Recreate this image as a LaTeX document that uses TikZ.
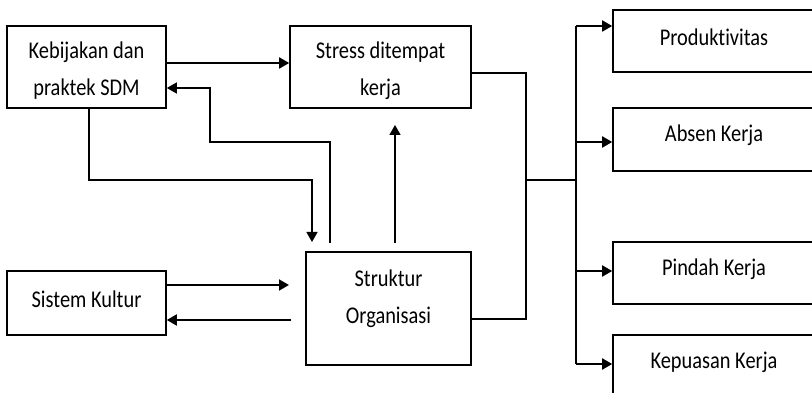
\documentclass[tikz,border=0pt]{standalone}
\usepackage{fontspec}
\setmainfont{Carlito}[FakeStretch=0.85, RawFeature=-liga]
\usetikzlibrary{arrows.meta}
\tikzset{
  box/.style={draw, line width=1.6pt, rectangle, inner sep=0pt},
  txt/.style={align=center, font=\fontsize{24}{37}\selectfont, inner sep=0pt},
  arr/.style={line width=1.8pt, -{Triangle[length=10pt,width=11pt]}},
  ln/.style={line width=1.4pt},
}
\begin{document}
\begin{tikzpicture}[x=1pt,y=-1pt]
\useasboundingbox (0,0) rectangle (812,393);
\clip (0,0) rectangle (812,393);
% boxes
\node[box, minimum width=159pt, minimum height=82pt] (keb) at (86.5,67) {};
\node[txt] (kebt) at (86.5,71) {Kebijakan dan\\praktek SDM};
\node[box, minimum width=181pt, minimum height=82pt] (stress) at (380.5,67) {};
\node[txt] (stresst) at (380.5,71) {Stress ditempat\\kerja};
\node[box, minimum width=159pt, minimum height=64pt] (sis) at (86.5,303) {};
\node[txt] (sist) at (86.5,299) {Sistem Kultur};
\node[box, minimum width=165pt, minimum height=113pt] (str) at (388.5,308.5) {};
\node[txt] (strt) at (388.5,299) {Struktur\\Organisasi};
\node[box, minimum width=202pt, minimum height=62pt] (prod) at (714,41) {};
\node[txt] (prodt) at (714,37) {Produktivitas};
\node[box, minimum width=202pt, minimum height=63pt] (abs) at (714,139.5) {};
\node[txt] (abst) at (714,135) {Absen Kerja};
\node[box, minimum width=202pt, minimum height=62pt] (pin) at (714,273) {};
\node[txt] (pint) at (714,269) {Pindah Kerja};
\node[box, minimum width=202pt, minimum height=62pt] (kep) at (714,366) {};
\node[txt] (kept) at (714,362) {Kepuasan Kerja};
% helper coordinates
\coordinate (b1) at (330,243);
\coordinate (c1) at (312,242);
\coordinate (u0) at (395,243);
\coordinate (u1) at (395,125);
\coordinate (s1) at (289,285);
\coordinate (s2) at (291,320);
\coordinate (j1) at (526,180);
\coordinate (bt) at (576,26);
\coordinate (bb) at (576,364);
% connectors
\draw[arr] ([yshift=4pt]keb.east) -- ([yshift=4pt]stress.west);
\draw[arr,line width=1.4pt] (b1) -- (330,142) -- (210,142) |- ([yshift=-21pt]keb.east);
\draw[arr,line width=1.4pt] ([xshift=2.5pt]keb.south) |- (312,180) -- (c1);
\draw[arr,line width=1.4pt] (u0) -- (u1);
\draw[arr] (sis.east |- s1) -- (s1);
\draw[arr] (s2) -- (sis.east |- s2);
\draw[ln] ([yshift=-6pt]stress.east) -| (j1) |- ([yshift=-10.5pt]str.east);
\draw[ln] (j1) -- (j1 -| bt);
\draw[ln] (bt) -- (bb);
\draw[arr] (bt) -- (bt -| prod.west);
\draw[arr] (576,142) -- (abs.west |- 0,142);
\draw[arr] (576,271) -- (pin.west |- 0,271);
\draw[arr] (bb) -- (bb -| kep.west);
\end{tikzpicture}
\end{document}
